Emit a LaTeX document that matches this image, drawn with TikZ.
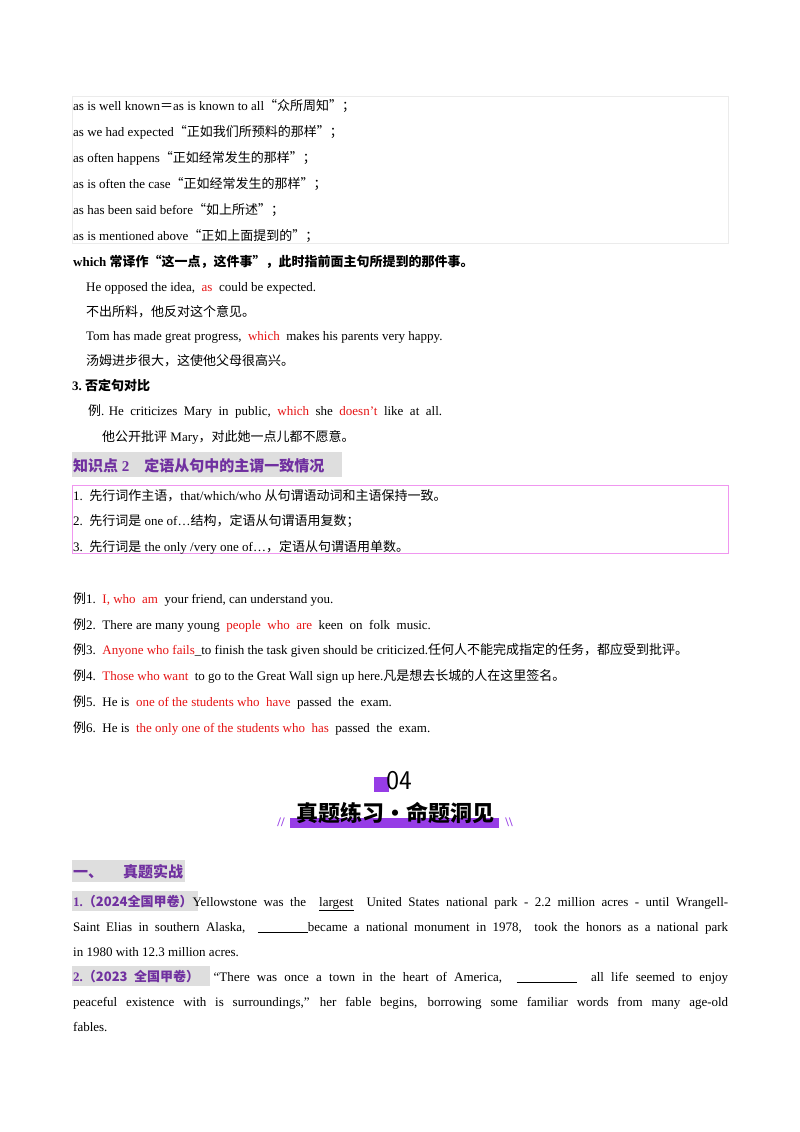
\documentclass[tikz,border=0pt]{standalone}
\usepackage{fontspec}
\setmainfont{Liberation Serif}
\newfontfamily\cjk{Noto Sans CJK SC}
\newcommand{\zh}[1]{{\cjk\fontsize{13}{15}\selectfont #1}}
\newcommand{\rd}[1]{\textcolor{myred}{#1}}
\definecolor{myred}{RGB}{230,20,20}
\definecolor{mypurple}{RGB}{112,48,160}
\definecolor{barpurple}{RGB}{150,60,230}
\definecolor{hgray}{RGB}{222,222,222}
\definecolor{pinkb}{RGB}{240,150,240}
\definecolor{lgray}{RGB}{235,235,235}
\begin{document}
\begin{tikzpicture}[x=1pt,y=-1pt,
  ln/.style={anchor=base west,inner sep=0pt,font=\fontsize{13}{15}\selectfont},
  hd/.style={anchor=base west,inner sep=0pt,font=\fontsize{15}{17}\selectfont\bfseries,text=mypurple}]
\useasboundingbox[fill=white] (0,0) rectangle (800,1132);
\draw[lgray] (72,96) rectangle (728,243);
\node[ln] (l1) at (73,110) {as is well known\zh{＝}as is known to all\zh{“众所周知”；}};
\node[ln] (l2) at (73,136) {as we had expected\zh{“正如我们所预料的那样”；}};
\node[ln] (l3) at (73,162) {as often happens\zh{“正如经常发生的那样”；}};
\node[ln] (l4) at (73,188) {as is often the case\zh{“正如经常发生的那样”；}};
\node[ln] (l5) at (73,214) {as has been said before\zh{“如上所述”；}};
\node[ln] (l6) at (73,240) {as is mentioned above\zh{“正如上面提到的”；}};
\node[ln] (l7) at (73,266) {\bfseries which {\cjk\bfseries\fontsize{13}{15}\selectfont 常译作“这一点，这件事”，此时指前面主句所提到的那件事。}};
\node[ln] (l8) at (86,291) {He opposed the idea,\ \ \rd{as}\ \ could be expected.};
\node[ln] (l9) at (86,316) {\zh{不出所料，他反对这个意见。}};
\node[ln] (l10) at (86,340) {Tom has made great progress,\ \ \rd{which}\ \ makes his parents very happy.};
\node[ln] (l11) at (86,365) {\zh{汤姆进步很大，这使他父母很高兴。}};
\node[ln] (l12) at (72,390) {\bfseries 3.\ {\cjk\bfseries\fontsize{13}{15}\selectfont 否定句对比}};
\node[ln] (l13) at (88,415) {\zh{例}. He\ \ criticizes\ \ Mary\ \ in\ \ public,\ \ \rd{which}\ \ she\ \ \rd{doesn't}\ \ like\ \ at\ \ all.};
\node[ln] (l14) at (102,441) {\zh{他公开批评} Mary\zh{，对此她一点儿都不愿意。}};
\fill[hgray] (72,452) rectangle (342,477);
\node[hd] (h1) at (73,471) {{\cjk\bfseries 知识点} 2\quad{\cjk\bfseries 定语从句中的主谓一致情况}};
\draw[pinkb] (72,485) rectangle (728,553);
\node[ln] (b1) at (73,500) {1.\ \ \zh{先行词作主语，}that/which/who \zh{从句谓语动词和主语保持一致。}};
\node[ln] (b2) at (73,525) {2.\ \ \zh{先行词是} one of…\zh{结构，定语从句谓语用复数；}};
\node[ln] (b3) at (73,551) {3.\ \ \zh{先行词是} the only /very one of…\zh{，定语从句谓语用单数。}};
\node[ln] (e1) at (73,603) {\zh{例}1.\ \ \rd{I, who\ \ am}\ \ your friend, can understand you.};
\node[ln] (e2) at (73,629) {\zh{例}2.\ \ There are many young\ \ \rd{people\ \ who\ \ are}\ \ keen\ \ on\ \ folk\ \ music.};
\node[ln] (e3) at (73,654) {\zh{例}3.\ \ \rd{Anyone who fails}\_to finish the task given should be criticized.\zh{任何人不能完成指定的任务，都应受到批评。}};
\node[ln] (e4) at (73,680) {\zh{例}4.\ \ \rd{Those who want}\ \ to go to the Great Wall sign up here.\zh{凡是想去长城的人在这里签名。}};
\node[ln] (e5) at (73,706) {\zh{例}5.\ \ He is\ \ \rd{one of the students who\ \ have}\ \ passed\ \ the\ \ exam.};
\node[ln] (e6) at (73,732) {\zh{例}6.\ \ He is\ \ \rd{the only one of the students who\ \ has}\ \ passed\ \ the\ \ exam.};
\fill[barpurple] (374,777) rectangle (389,792);
\node[anchor=center,inner sep=0pt,font=\fontsize{27}{29}\selectfont\sffamily] (n04) at (399,781) {04};
\fill[barpurple] (290,818) rectangle (499,828);
\node[anchor=center,inner sep=0pt,font=\fontsize{22}{24}\selectfont\cjk\bfseries] (ttl) at (395,813) {真题练习·命题洞见};
\node[anchor=center,inner sep=0pt,text=barpurple,font=\fontsize{13}{13}\selectfont\bfseries] (sl) at (281,822) {//};
\node[anchor=center,inner sep=0pt,text=barpurple,font=\fontsize{13}{13}\selectfont\bfseries] (sr) at (509,822) {\textbackslash\textbackslash};
\fill[hgray] (72,860) rectangle (185,882);
\node[hd] (h2) at (73,877) {{\cjk\bfseries 一、}\hspace{20pt}{\cjk\bfseries 真题实战}};
\fill[hgray] (72,891) rectangle (198,911);
\node[ln] (q1a) at (73,906) {\makebox[655pt][s]{\textcolor{mypurple}{\bfseries 1.{\cjk（2024全国甲卷）}}Yellowstone was the\ \ \underline{largest}\ \ United States national park - 2.2 million acres - until Wrangell-}};
\node[ln] (q1b) at (73,931) {\makebox[655pt][s]{Saint Elias in southern Alaska,\ \ \underline{\hspace{50pt}}became a national monument in 1978,\ \ took the honors as a national park}};
\node[ln] (q1c) at (73,956) {in 1980 with 12.3 million acres.};
\fill[hgray] (72,966) rectangle (210,986);
\node[ln] (q2a) at (73,981) {\makebox[655pt][s]{\textcolor{mypurple}{\bfseries 2.{\cjk（2023 全国甲卷）}}\ \ “There was once a town in the heart of America,\ \ \underline{\hspace{60pt}}\ \ all life seemed to enjoy}};
\node[ln] (q2b) at (73,1006) {\makebox[655pt][s]{peaceful existence with is surroundings,” her fable begins, borrowing some familiar words from many age-old}};
\node[ln] (q2c) at (73,1031) {fables.};
\end{tikzpicture}
\end{document}
